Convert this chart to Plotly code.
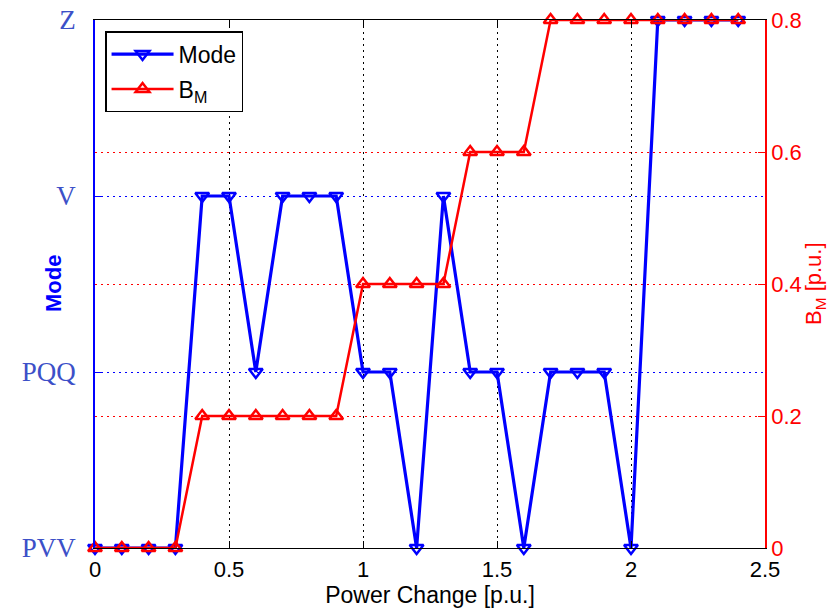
import plotly.graph_objects as go

# Power change steps [p.u.]
power = [0.0, 0.1, 0.2, 0.3, 0.4, 0.5, 0.6, 0.7, 0.8, 0.9, 1.0, 1.1, 1.2,
         1.3, 1.4, 1.5, 1.6, 1.7, 1.8, 1.9, 2.0, 2.1, 2.2, 2.3, 2.4]

# Operating mode index (0=PVV, 1=PQQ, 2=V, 3=Z)
mode = [0, 0, 0, 0, 2, 2, 1, 2, 2, 2, 1, 1, 0,
        2, 1, 1, 0, 1, 1, 1, 0, 3, 3, 3, 3]
mode_labels = ["PVV", "PQQ", "V", "Z"]

# Susceptance B_M [p.u.]
bm = [0.0, 0.0, 0.0, 0.0, 0.2, 0.2, 0.2, 0.2, 0.2, 0.2, 0.4, 0.4, 0.4,
      0.4, 0.6, 0.6, 0.6, 0.8, 0.8, 0.8, 0.8, 0.8, 0.8, 0.8, 0.8]

x_ticks = [0, 0.5, 1, 1.5, 2, 2.5]
bm_ticks = [0, 0.2, 0.4, 0.6, 0.8]

BLUE = "#0000ff"
RED = "#ff0000"
SANS = "Liberation Sans, Arial, sans-serif"
SERIF = "Liberation Serif, Times New Roman, serif"

fig = go.Figure()

fig.add_trace(go.Scatter(
    x=power, y=mode, name="Mode", mode="lines+markers",
    legendgroup="mode",
    line=dict(color=BLUE, width=3.2),
    marker=dict(symbol="triangle-down-open", size=12, color=BLUE,
                line=dict(color=BLUE, width=2.5)),
    cliponaxis=False, yaxis="y",
))

fig.add_trace(go.Scatter(
    x=power, y=bm, name="B<sub>M</sub>", mode="lines+markers",
    legendgroup="bm",
    line=dict(color=RED, width=2.5),
    marker=dict(symbol="triangle-up-open", size=12, color=RED,
                line=dict(color=RED, width=2.5)),
    cliponaxis=False, yaxis="y2",
))

fig.update_layout(
    width=838, height=608,
    margin=dict(l=95, r=73, t=20, b=60),
    paper_bgcolor="white", plot_bgcolor="white",
    showlegend=True,
    legend=dict(
        x=0.015, y=0.979, xanchor="left", yanchor="top",
        bgcolor="white", bordercolor="black", borderwidth=1.5,
        font=dict(family=SANS, size=23, color="black"),
        itemwidth=62, tracegroupgap=2, traceorder="grouped",
    ),
    xaxis=dict(
        range=[0, 2.5], tickvals=x_ticks, ticktext=[f"{v:g}" for v in x_ticks],
        showline=True, linecolor="black", linewidth=1, mirror="ticks",
        ticks="inside", ticklen=7, tickcolor="black",
        showgrid=True, gridcolor="black", gridwidth=1, griddash="2px,4px",
        zeroline=False, automargin=False, ticklabelstandoff=2,
        tickfont=dict(family=SANS, size=22, color="black"),
        title=dict(text="Power Change [p.u.]", standoff=10,
                   font=dict(family=SANS, size=23, color="black")),
    ),
    yaxis=dict(
        range=[0, 3], tickvals=list(range(len(mode_labels))), ticktext=mode_labels,
        showline=True, linecolor=BLUE, linewidth=1.5,
        ticks="inside", ticklen=7, tickcolor=BLUE,
        showgrid=True, gridcolor=BLUE, gridwidth=1, griddash="2px,4px",
        zeroline=False, automargin=False, ticklabelstandoff=12,
        tickfont=dict(family=SERIF, size=27, color="#3c50c8"),
    ),
    yaxis2=dict(
        range=[0, 0.8], tickvals=bm_ticks, ticktext=[f"{v:g}" for v in bm_ticks],
        overlaying="y", side="right",
        showline=True, linecolor=RED, linewidth=1.5,
        ticks="inside", ticklen=7, tickcolor=RED,
        showgrid=True, gridcolor=RED, gridwidth=1.2, griddash="2px,4px",
        zeroline=False, automargin=False,
        tickfont=dict(family=SANS, size=22, color=RED),
    ),
)

# Rotated axis titles, positioned in pixels relative to the plot area
plot_l, plot_r, plot_t, plot_b = 95, 838 - 73, 20, 608 - 60
pw, ph = plot_r - plot_l, plot_b - plot_t


def side_title(text, px, py, color, bold=False):
    fig.add_annotation(
        text=f"<b>{text}</b>" if bold else text,
        x=(px - plot_l) / pw, y=(plot_b - py) / ph,
        xref="paper", yref="paper", xanchor="center", yanchor="middle",
        showarrow=False, textangle=-90,
        font=dict(family=SANS, size=22, color=color),
    )


side_title("Mode", 53, 284, BLUE, bold=True)
side_title("B<sub>M</sub> [p.u.]", 815, 284, RED)

fig.write_html("out.html")
